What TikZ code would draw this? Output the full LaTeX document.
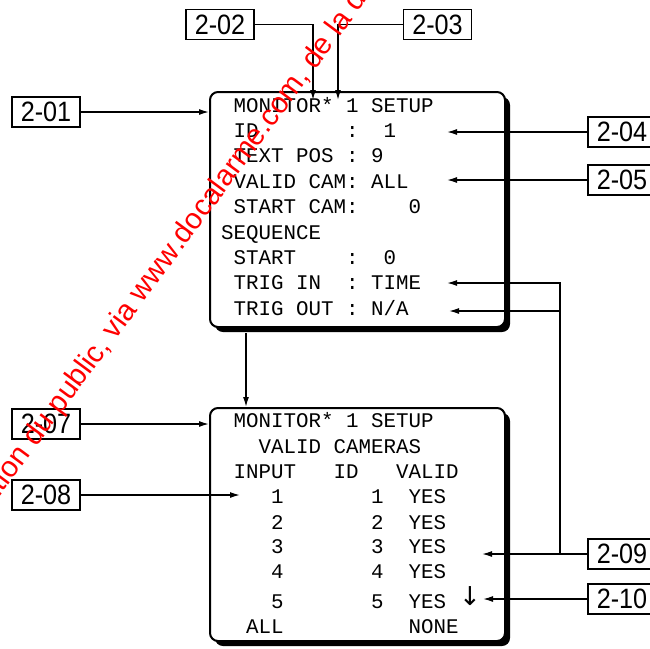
\documentclass[tikz,border=0pt]{standalone}
\usepackage{fontspec}
\usetikzlibrary{arrows.meta,shadows}
\newfontfamily\scrfont{Liberation Mono}
\newfontfamily\lblfont[FakeStretch=0.9]{Liberation Sans}
\newfontfamily\wmfont{Liberation Sans}
\newfontfamily\symfont{DejaVu Sans}
\newlength\mycw \setlength\mycw{12.5pt}
\newcommand\gp[1]{\hspace*{#1\mycw}}
\begin{document}
\begin{tikzpicture}[x=1pt,y=-1pt,
 lbl/.style={draw, line width=1.6, minimum width=68, minimum height=30, inner sep=0, fill=white, font=\lblfont\fontsize{28}{30}\selectfont},
 screen/.style={draw, line width=2, rounded corners=8, fill=white, inner sep=0, drop shadow={shadow xshift=5pt, shadow yshift=-5pt, opacity=1, fill=black}},
 row/.style={anchor=base west, inner sep=0, font=\scrfont\fontsize{20.83}{25}\selectfont},
 arr/.style={line width=1.4, -{Latex[length=10pt,width=6pt]}},
 wm/.style={inner sep=0, text=red, rotate=53.5, font=\wmfont\fontsize{29.4}{31}\selectfont}]
\clip (0,0) rectangle (650,648);
\fill[white] (0,0) rectangle (650,648);
% screens
\node[screen, minimum width=295, minimum height=235] (s1) at (357.5,209.5) {};
\node[screen, minimum width=295, minimum height=233] (s2) at (357.5,524.5) {};
% screen 1 text
\node[row] (a1) at (221,112)   {\gp{1}MONITOR*\gp{1}1\gp{1}SETUP};
\node[row] (a2) at (221,137.4) {\gp{1}ID\gp{7}:\gp{2}1};
\node[row] (a3) at (221,162.8) {\gp{1}TEXT\gp{1}POS\gp{1}:\gp{1}9};
\node[row] (a4) at (221,188.2) {\gp{1}VALID\gp{1}CAM:\gp{1}ALL};
\node[row] (a5) at (221,213.6) {\gp{1}START\gp{1}CAM:\gp{4}0};
\node[row] (a6) at (221,239)   {SEQUENCE};
\node[row] (a7) at (221,264.4) {\gp{1}START\gp{4}:\gp{2}0};
\node[row] (a8) at (221,289.8) {\gp{1}TRIG\gp{1}IN\gp{2}:\gp{1}TIME};
\node[row] (a9) at (221,315.2) {\gp{1}TRIG\gp{1}OUT\gp{1}:\gp{1}N/A};
% screen 2 text
\node[row] (b1) at (221,427) {\gp{1}MONITOR*\gp{1}1\gp{1}SETUP};
\node[row] (b2) at (221,453) {\gp{3}VALID\gp{1}CAMERAS};
\node[row] (b3) at (221,478) {\gp{1}INPUT\gp{3}ID\gp{3}VALID};
\node[row] (b4) at (221,503) {\gp{4}1\gp{7}1\gp{2}YES};
\node[row] (b5) at (221,529) {\gp{4}2\gp{7}2\gp{2}YES};
\node[row] (b6) at (221,553) {\gp{4}3\gp{7}3\gp{2}YES};
\node[row] (b7) at (221,578) {\gp{4}4\gp{7}4\gp{2}YES};
\node[row] (b8) at (221,608) {\gp{4}5\gp{7}5\gp{2}YES};
\node[row] (b9) at (221,633) {\gp{2}ALL\gp{10}NONE};
\node[inner sep=0, font=\symfont\fontsize{26}{28}\selectfont] (dn) at (470,596) {↓};
% labels
\node[lbl] (l201) at (46,112) {2-01};
\node[lbl] (l202) at (220,24.5) {2-02};
\node[lbl] (l203) at (437.5,24.5) {2-03};
\node[lbl] (l204) at (622,132) {2-04};
\node[lbl] (l205) at (622,180) {2-05};
\node[lbl] (l207) at (46,424) {2-07};
\node[lbl] (l208) at (46,495) {2-08};
\node[lbl] (l209) at (622,554) {2-09};
\node[lbl] (l210) at (622,599) {2-10};
% connector ends
\coordinate (t202) at (313,100);
\coordinate (t203) at (338,100);
\coordinate (t204) at (447,132);
\coordinate (t205) at (447,180);
\coordinate (tin) at (447,283);
\coordinate (tout) at (449,311);
\coordinate (j) at (560,554);
\coordinate (t209) at (482,554);
\coordinate (t210) at (483,599);
\coordinate (t208) at (240,495);
\coordinate (d1) at (246,333);
% connectors
\draw[arr] (l201.east) -- (l201.east -| s1.west);
\draw[arr] (l202.east) -| (t202);
\draw[arr] (l203.west) -| (t203);
\draw[arr] (l204.west) -- (t204);
\draw[arr] (l205.west) -- (t205);
\draw[arr] (l209.west) -- (t209);
\draw[arr] (j) |- (tin);
\draw[arr] (j |- tout) -- (tout);
\draw[arr] (l210.west) -- (t210);
\draw[arr] (l207.east) -- (l207.east -| s2.west);
\draw[arr] (l208.east) -- (t208);
\draw[arr] (d1) -- (d1 |- s2.north);
% watermark
\coordinate (wp) at (181,252);
\node[wm, anchor=base east] (wm1) at (wp) {Document mis à disposition du public, via www};
\node[wm, anchor=base west] (wm2) at (wp) {.docalarme.com, de la documentation};
\end{tikzpicture}
\end{document}
